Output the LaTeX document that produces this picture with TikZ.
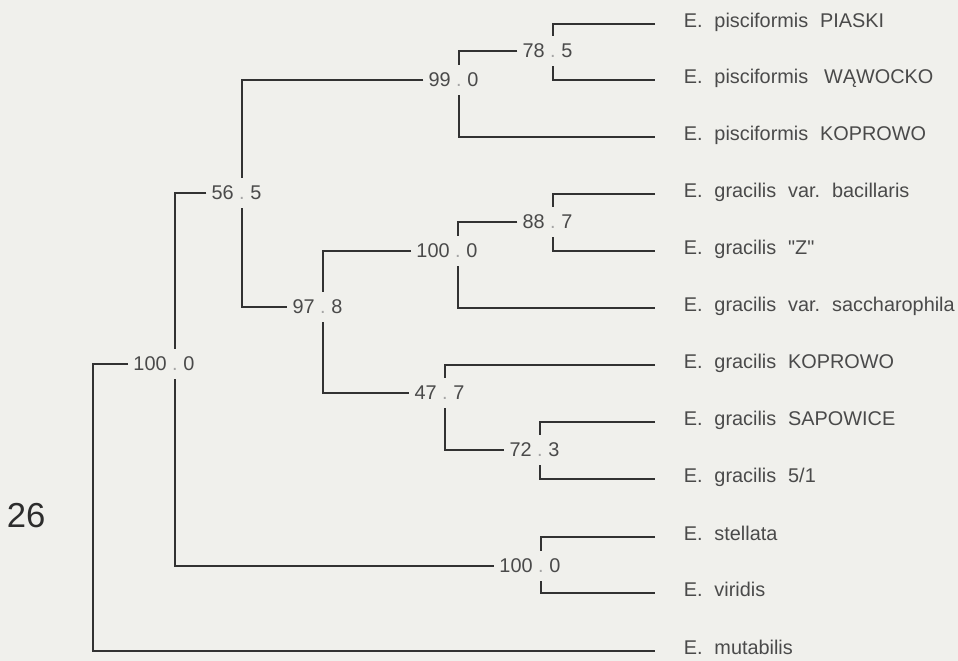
\documentclass[tikz,border=0pt]{standalone}
\usepackage{fontspec}
\setmainfont{Liberation Sans}[Ligatures=TeXOff]
\usetikzlibrary{calc}
\definecolor{bgc}{RGB}{240,240,236}
\definecolor{linec}{RGB}{50,50,50}
\definecolor{txtc}{RGB}{74,74,74}
\definecolor{dotc}{RGB}{165,165,165}
\definecolor{numc}{RGB}{45,45,45}
\newcommand{\gp}{\hspace{0.6em}}
\newcommand{\bslab}[4]{%
  \coordinate (#1) at (#2);
  \node[dotlab] (#1-d) at (#1) {\vphantom{0}.};
  \node[numlab, anchor=east] (#1-l) at ($(#1)+(-8.1,0)$) {#3};
  \node[numlab, anchor=west] (#1-r) at ($(#1)+(8.1,0)$) {#4};}
\begin{document}
\begin{tikzpicture}[x=0.75pt, y=-0.75pt,
  font=\fontsize{14.9pt}{17pt}\selectfont,
  br/.style={draw=linec, line width=1.9pt},
  numlab/.style={inner sep=0pt, text=txtc},
  dotlab/.style={inner sep=0pt, text=dotc},
  leaf/.style={anchor=west, inner sep=0pt, text height=0.75em, text depth=0.24em, text=txtc}]
\fill[bgc] (0,0) rectangle (958,661);
\useasboundingbox (0,0) rectangle (958,661);

% leaves
\node[leaf] (L1) at (683.5,24) {E.\gp pisciformis\gp PIASKI};
\node[leaf] (L2) at (683.5,80) {E.\gp pisciformis\hspace{0.8em}WĄWOCKO};
\node[leaf] (L3) at (683.5,137) {E.\gp pisciformis\gp KOPROWO};
\node[leaf] (L4) at (683.5,194) {E.\gp gracilis\gp var.\gp bacillaris};
\node[leaf] (L5) at (683.5,251) {E.\gp gracilis\gp "Z"};
\node[leaf] (L6) at (683.5,308) {E.\gp gracilis\gp var.\gp saccharophila};
\node[leaf] (L7) at (683.5,365) {E.\gp gracilis\gp KOPROWO};
\node[leaf] (L8) at (683.5,422) {E.\gp gracilis\gp SAPOWICE};
\node[leaf] (L9) at (683.5,479) {E.\gp gracilis\gp 5/1};
\node[leaf] (L10) at (683.5,537) {E.\gp stellata};
\node[leaf] (L11) at (683.5,593) {E.\gp viridis};
\node[leaf] (L12) at (683.5,651) {E.\gp mutabilis};

% internal node labels
\bslab{A}{553,51}{78}{5}
\bslab{B}{459,80}{99}{0}
\bslab{D}{553,222}{88}{7}
\bslab{E}{458,251}{100}{0}
\bslab{G}{540,450}{72}{3}
\bslab{H}{445,393}{47}{7}
\bslab{F}{323,307}{97}{8}
\bslab{C}{242,193}{56}{5}
\bslab{J}{541,566}{100}{0}
\bslab{I}{175,364}{100}{0}
\coordinate (R) at (93,364);

\node[anchor=base west, inner sep=0pt, font=\fontsize{26pt}{30pt}\selectfont, text=numc] (fig) at (6.5,527) {26};

% A
\draw[br] ($(L1.west)+(-28.5,0)$) -- (L1 -| A) -- ($(A)+(0,-15)$);
\draw[br] ($(A)+(0,15)$) -- (L2 -| A) -- ($(L2.west)+(-28.5,0)$);
% B
\draw[br] ($(A-l.west)+(-5,0)$) -- (A -| B) -- ($(B)+(0,-15)$);
\draw[br] ($(B)+(0,15)$) -- (L3 -| B) -- ($(L3.west)+(-28.5,0)$);
% C
\draw[br] ($(B-l.west)+(-5,0)$) -- (B -| C) -- ($(C)+(0,-15)$);
\draw[br] ($(C)+(0,15)$) -- (F -| C) -- ($(F-l.west)+(-5,0)$);
% D
\draw[br] ($(L4.west)+(-28.5,0)$) -- (L4 -| D) -- ($(D)+(0,-15)$);
\draw[br] ($(D)+(0,15)$) -- (L5 -| D) -- ($(L5.west)+(-28.5,0)$);
% E
\draw[br] ($(D-l.west)+(-5,0)$) -- (D -| E) -- ($(E)+(0,-15)$);
\draw[br] ($(E)+(0,15)$) -- (L6 -| E) -- ($(L6.west)+(-28.5,0)$);
% F
\draw[br] ($(E-l.west)+(-5,0)$) -- (E -| F) -- ($(F)+(0,-15)$);
\draw[br] ($(F)+(0,15)$) -- (H -| F) -- ($(H-l.west)+(-5,0)$);
% H
\draw[br] ($(L7.west)+(-28.5,0)$) -- (L7 -| H) -- ($(H)+(0,-15)$);
\draw[br] ($(H)+(0,15)$) -- (G -| H) -- ($(G-l.west)+(-5,0)$);
% G
\draw[br] ($(L8.west)+(-28.5,0)$) -- (L8 -| G) -- ($(G)+(0,-15)$);
\draw[br] ($(G)+(0,15)$) -- (L9 -| G) -- ($(L9.west)+(-28.5,0)$);
% J
\draw[br] ($(L10.west)+(-28.5,0)$) -- (L10 -| J) -- ($(J)+(0,-15)$);
\draw[br] ($(J)+(0,15)$) -- (L11 -| J) -- ($(L11.west)+(-28.5,0)$);
% I
\draw[br] ($(C-l.west)+(-5,0)$) -- (C -| I) -- ($(I)+(0,-15)$);
\draw[br] ($(I)+(0,15)$) -- (J -| I) -- ($(J-l.west)+(-5,0)$);
% root
\draw[br] ($(I-l.west)+(-5,0)$) -- (I -| R) -- (L12 -| R) -- ($(L12.west)+(-28.5,0)$);
\end{tikzpicture}
\end{document}
